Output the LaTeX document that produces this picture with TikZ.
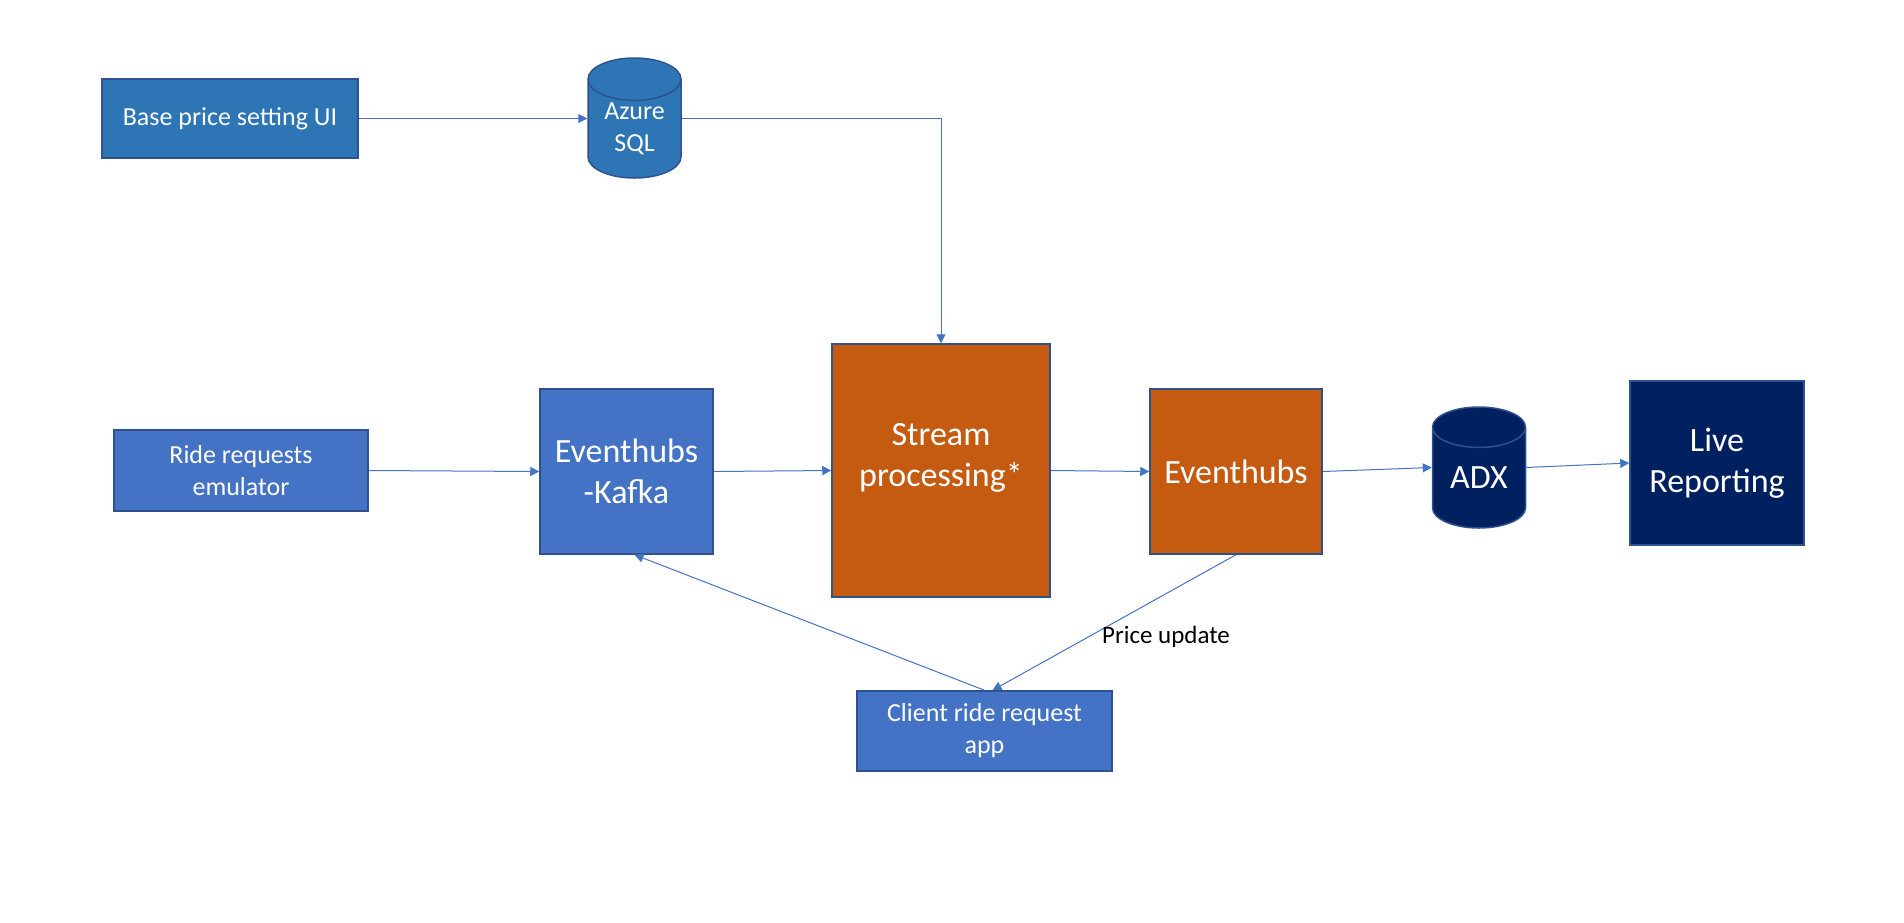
\documentclass[tikz,border=0pt]{standalone}
\usepackage{fontspec}
\setmainfont{Carlito}
\usetikzlibrary{shapes.geometric,arrows.meta}
\definecolor{midblue}{HTML}{2E75B6}
\definecolor{azblue}{HTML}{4472C4}
\definecolor{rust}{HTML}{C55A11}
\definecolor{navy}{HTML}{002060}
\definecolor{edgeblue}{HTML}{2F528F}

\begin{document}
\begin{tikzpicture}[x=1pt, y=-1pt,
    box/.style={draw=edgeblue, line width=1.5pt, text=white, align=center, inner sep=0pt},
    small/.style={font=\fontsize{26}{32}\selectfont},
    big/.style={font=\fontsize{34}{41}\selectfont},
    db/.style={cylinder, shape border rotate=90, aspect=0.7, draw=edgeblue, line width=1.5pt,
        text=white, align=center, inner sep=0pt, anchor=shape center},
    conn/.style={draw=azblue, line width=1pt, -{Triangle[length=9pt, width=9pt]}}]
    \useasboundingbox (0,0) rectangle (1904,922);

    % Base price UI
    \node[box, small, fill=midblue, minimum width=256pt, minimum height=79pt] (base) at (230,118.5) {Base price setting UI};

    % Azure SQL
    \node[db, small, fill=midblue, minimum width=93pt, minimum height=120pt] (sql) at (634.5,118) {Azure\\SQL};

    % Ride requests emulator
    \node[box, small, fill=azblue, minimum width=254pt, minimum height=81pt] (ride) at (241,470.5) {Ride requests\\emulator};

    % Eventhubs Kafka
    \node[box, big, fill=azblue, minimum width=173pt, minimum height=165pt] (kafka) at (626.5,471.5) {Eventhubs\\-Kafka};

    % Stream processing
    \node[box, big, fill=rust, minimum width=218pt, minimum height=253pt, text depth=31pt] (stream) at (941,470.5) {Stream\\processing*};

    % Eventhubs out
    \node[box, big, fill=rust, minimum width=172pt, minimum height=165pt] (evh) at (1236,471.5) {Eventhubs};

    % ADX
    \node[db, big, fill=navy, minimum width=93pt, minimum height=121pt] (adx) at (1479,467.5) {ADX};

    % Live Reporting
    \node[box, big, fill=navy, minimum width=174pt, minimum height=164pt] (live) at (1717,463) {Live\\Reporting};

    % Client app
    \node[box, small, fill=azblue, minimum width=255pt, minimum height=80pt] (client) at (984.5,731) {Client ride request\\app};

    % Arrows
    \draw[conn] (base.east) -- (base.east -| sql.west);
    \draw[conn] (sql.shape center -| sql.east) -| (stream.north);
    \draw[conn] (ride.east) -- (kafka.west);
    \draw[conn] (kafka.east) -- (stream.west);
    \draw[conn] (stream.east) -- (evh.west);
    \draw[conn] (evh.east) -- (adx.shape center -| adx.west);
    \draw[conn] (adx.shape center -| adx.east) -- (live.west);

    % Feedback loop
    \draw[conn] (evh.south) -- ([xshift=8pt]client.north);
    \draw[conn] (client.north) -- ([xshift=8pt]kafka.south);
    \node[font=\fontsize{25}{30}\selectfont] (price) at (1166,637) {Price update};
\end{tikzpicture}
\end{document}
